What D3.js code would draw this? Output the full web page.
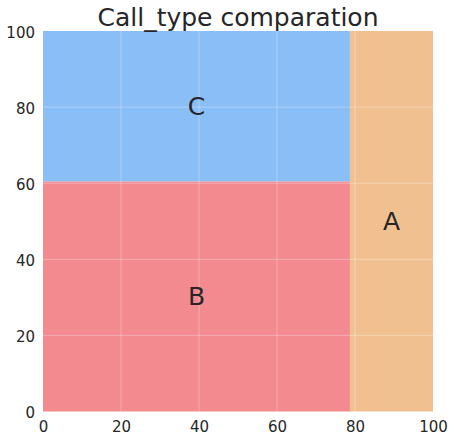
<!DOCTYPE html>
<html><head><meta charset="utf-8">
<script src="https://cdn.jsdelivr.net/npm/d3@7"></script>
<style>body{margin:0;background:#fff;}svg{display:block;font-family:"DejaVu Sans",sans-serif;}</style>
</head><body>
<script>
const categories = ["B", "C", "A"];
const values = [47.6, 31.1, 21.3];
const colors = ["#f28a90", "#8abef7", "#f1c091"];
const ticks = [0, 20, 40, 60, 80, 100];
const title = "Call_type comparation";

const W = 454, H = 441;
const m = {l: 43, r: 21, t: 31, b: 29.5};
const svg = d3.select("body").append("svg").attr("width", W).attr("height", H);
const x = d3.scaleLinear().domain([0, 100]).range([m.l, W - m.r]);
const y = d3.scaleLinear().domain([0, 100]).range([H - m.b, m.t]);

// squarify-style layout: first row [B, C] as a left column, A in remaining area
const total = d3.sum(values);
const rowSum = values[0] + values[1];
const colW = rowSum / total * 100;
const rects = [];
let y0 = 0;
for (let i = 0; i < 2; i++) {
  const h = values[i] / rowSum * 100;
  rects.push({label: categories[i], color: colors[i], x0: 0, x1: colW, y0: y0, y1: y0 + h});
  y0 += h;
}
rects.push({label: categories[2], color: colors[2], x0: colW, x1: 100, y0: 0, y1: 100});

svg.selectAll("rect.cell").data(rects).join("rect").attr("class", "cell")
  .attr("x", d => x(d.x0)).attr("y", d => y(d.y1))
  .attr("width", d => x(d.x1) - x(d.x0)).attr("height", d => y(d.y0) - y(d.y1))
  .attr("fill", d => d.color);

// grid lines
const g = svg.append("g");
ticks.filter(t => t > 0 && t < 100).forEach(t => {
  g.append("line").attr("x1", x(t)).attr("x2", x(t)).attr("y1", y(0)).attr("y2", y(100))
    .attr("stroke", "rgba(255,255,255,0.3)").attr("stroke-width", 1);
  g.append("line").attr("x1", x(0)).attr("x2", x(100)).attr("y1", y(t)).attr("y2", y(t))
    .attr("stroke", "rgba(255,255,255,0.3)").attr("stroke-width", 1);
});

svg.selectAll("text.lab").data(rects).join("text").attr("class", "lab")
  .attr("x", d => x((d.x0 + d.x1) / 2)).attr("y", d => y((d.y0 + d.y1) / 2))
  .attr("text-anchor", "middle").attr("dominant-baseline", "central")
  .attr("font-size", 25).attr("fill", "#262626").text(d => d.label);

const xa = svg.append("g").attr("transform", `translate(0,${y(0)})`)
  .call(d3.axisBottom(x).tickValues(ticks).tickSize(0).tickPadding(10).tickFormat(d3.format("d")));
const ya = svg.append("g").attr("transform", `translate(${x(0)},0)`)
  .call(d3.axisLeft(y).tickValues(ticks).tickSize(0).tickPadding(8).tickFormat(d3.format("d")));
[xa, ya].forEach(a => {
  a.select(".domain").remove();
  a.selectAll("text").attr("font-size", 15).attr("fill", "#262626").attr("font-family", "DejaVu Sans");
});
ya.selectAll("text").attr("dy", "0.42em");

svg.append("text").attr("x", x(50)).attr("y", 26).attr("text-anchor", "middle")
  .attr("font-size", 25).attr("fill", "#262626").text(title);
</script>
</body></html>
